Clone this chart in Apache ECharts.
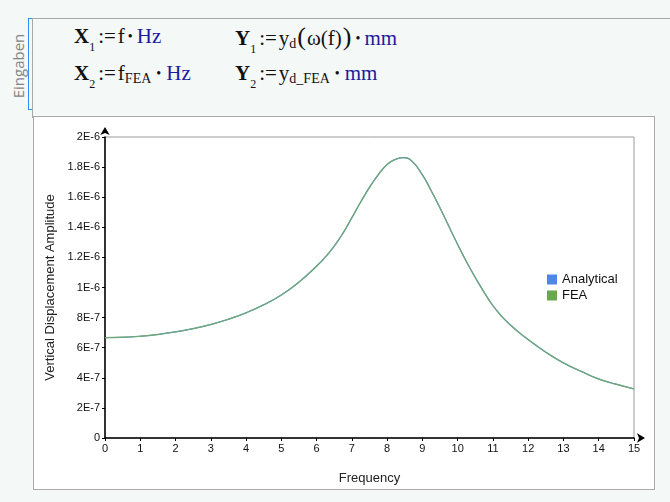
<!DOCTYPE html>
<html>
<head>
<meta charset="utf-8">
<script src="https://cdn.jsdelivr.net/npm/echarts@6/dist/echarts.min.js"></script>
<style>
  html, body { margin: 0; padding: 0; width: 670px; height: 502px; overflow: hidden; background: #f4f8f6; }
  #frameTop { position: absolute; left: 32px; top: 18px; width: 640px; height: 0; border-top: 1px solid #a8a8a8; }
  #frameLeft { position: absolute; left: 32px; top: 18px; width: 0; height: 100px; border-left: 1px solid #a8a8a8; }
  #bracket { position: absolute; left: 28px; top: 18px; width: 4px; height: 92px; border: 1px solid #2f8cff; border-right: none; box-sizing: border-box; }
  #ein { position: absolute; left: 18px; top: 66px; transform: translate(-50%, -50%) rotate(-90deg); font-family: "Open Sans", "Noto Sans", sans-serif; font-size: 15px; color: #858585; white-space: nowrap; }
  #box { position: absolute; left: 33px; top: 116px; width: 622px; height: 374px; background: #fff; border: 1px solid #aaaaaa; box-sizing: border-box; }
  #chart { position: absolute; left: 0; top: 0; width: 670px; height: 502px; }
  .m { position: absolute; font-family: "Liberation Serif", "DejaVu Serif", serif; font-size: 21px; line-height: 21px; color: #111; white-space: nowrap; }
  .m b { font-weight: bold; }
  .u { color: #1a1aa0; }
  .sub { font-size: 12px; position: relative; top: 8px; }
  .sub2 { font-size: 14px; position: relative; top: 3px; }
  .asg { margin: 0 2px 0 3px; }
  .dot { font-size: 14px; position: relative; top: -2px; margin: 0 5px; }
  .dot.n { margin: 0 4px 0 3px; }
  .par { font-size: 26px; margin: 0 1px; }
</style>
</head>
<body>
<div id="frameTop"></div>
<div id="frameLeft"></div>
<div id="bracket"></div>
<div id="ein">Eingaben</div>
<div class="m" style="left:74px; top:26px;"><b>X</b><span class="sub">1</span><span class="asg">:=</span>f<span class="dot n">•</span><span class="u">Hz</span></div>
<div class="m" style="left:235px; top:26px;"><b>Y</b><span class="sub">1</span><span class="asg">:=</span>y<span class="sub2">d</span><span class="par">(</span>ω(f)<span class="par">)</span><span class="dot n">•</span><span class="u">mm</span></div>
<div class="m" style="left:74px; top:63px;"><b>X</b><span class="sub">2</span><span class="asg">:=</span>f<span class="sub2">FEA</span><span class="dot">•</span><span class="u">Hz</span></div>
<div class="m" style="left:235px; top:63px;"><b>Y</b><span class="sub">2</span><span class="asg">:=</span>y<span class="sub2">d_FEA</span><span class="dot">•</span><span class="u">mm</span></div>
<div id="box"></div>
<div id="chart"></div>
<script>
// Frequency values (Hz)
var freq = [0, 0.5, 1, 1.5, 2, 2.5, 3, 3.5, 4, 4.5, 5, 5.5, 6, 6.25, 6.5, 6.75, 7, 7.25, 7.5, 7.75, 8, 8.2, 8.45, 8.7, 9, 9.25, 9.5, 9.75, 10, 10.25, 10.5, 10.75, 11, 11.25, 11.5, 11.75, 12, 12.5, 13, 13.5, 14, 14.5, 15];
// Amplitude (units of 1E-6)
var analytical = [0.667, 0.669, 0.676, 0.688, 0.705, 0.727, 0.754, 0.789, 0.832, 0.885, 0.950, 1.036, 1.142, 1.203, 1.275, 1.362, 1.464, 1.568, 1.665, 1.750, 1.818, 1.848, 1.863, 1.840, 1.748, 1.643, 1.528, 1.407, 1.286, 1.171, 1.066, 0.968, 0.879, 0.808, 0.750, 0.699, 0.654, 0.570, 0.499, 0.443, 0.392, 0.357, 0.326];
var fea = [0.667, 0.669, 0.676, 0.688, 0.705, 0.727, 0.754, 0.789, 0.832, 0.885, 0.950, 1.036, 1.142, 1.203, 1.275, 1.362, 1.464, 1.568, 1.665, 1.750, 1.818, 1.848, 1.863, 1.840, 1.748, 1.643, 1.528, 1.407, 1.286, 1.171, 1.066, 0.968, 0.879, 0.808, 0.750, 0.699, 0.654, 0.570, 0.499, 0.443, 0.392, 0.357, 0.326];
var yTickValues = [0, 2e-7, 4e-7, 6e-7, 8e-7, 1e-6, 1.2e-6, 1.4e-6, 1.6e-6, 1.8e-6, 2e-6];
var yTickLabels = ['0', '2E-7', '4E-7', '6E-7', '8E-7', '1E-6', '1.2E-6', '1.4E-6', '1.6E-6', '1.8E-6', '2E-6'];
var seriesNames = ['Analytical', 'FEA'];

function pairs(xs, ys) {
  return xs.map(function (x, i) { return [x, ys[i] * 1e-6]; });
}
function yLabel(v) {
  for (var i = 0; i < yTickValues.length; i++) {
    if (Math.abs(v - yTickValues[i]) < 1e-9) return yTickLabels[i];
  }
  return '';
}

var chart = echarts.init(document.getElementById('chart'), null, { renderer: 'canvas' });
var font = '"Liberation Sans", Arial, sans-serif';
chart.setOption({
  backgroundColor: 'transparent',
  animation: false,
  grid: { left: 105, top: 137, width: 529, height: 301, show: true, borderColor: '#9a9a9a', borderWidth: 1, backgroundColor: 'transparent' },
  legend: {
    data: seriesNames, orient: 'vertical', left: 547, top: 273, padding: 0, itemWidth: 10, itemHeight: 10, itemGap: 3,
    icon: 'rect', textStyle: { fontFamily: font, fontSize: 13, color: '#111' }
  },
  xAxis: {
    type: 'value', min: 0, max: 15, interval: 1,
    name: 'Frequency', nameLocation: 'middle', nameGap: 34,
    nameTextStyle: { fontFamily: font, fontSize: 13, color: '#222' },
    axisLine: { show: true, onZero: false, symbol: ['none', 'arrow'], symbolSize: [7, 8], symbolOffset: [0, 11], lineStyle: { color: '#000', width: 1.5 } },
    axisTick: { show: true, length: 3, lineStyle: { color: '#000' } },
    axisLabel: { fontFamily: font, fontSize: 11, color: '#111', margin: 5 },
    splitLine: { show: false }
  },
  yAxis: {
    type: 'value', min: 0, max: 2e-6, interval: 2e-7,
    name: 'Vertical Displacement Amplitude', nameLocation: 'middle', nameGap: 48,
    nameTextStyle: { fontFamily: font, fontSize: 13, color: '#222' },
    axisLine: { show: true, onZero: false, symbol: ['none', 'arrow'], symbolSize: [7, 8], symbolOffset: [0, 10], lineStyle: { color: '#000', width: 1.5 } },
    axisTick: { show: true, length: 3, lineStyle: { color: '#000' } },
    axisLabel: { fontFamily: font, fontSize: 11, color: '#111', margin: 5, formatter: yLabel },
    splitLine: { show: false }
  },
  series: [
    { name: seriesNames[0], type: 'line', data: pairs(freq, analytical), smooth: 0.5, showSymbol: false, color: '#4d86e6', lineStyle: { width: 1.1, color: '#4d86e6' } },
    { name: seriesNames[1], type: 'line', data: pairs(freq, fea), smooth: 0.5, showSymbol: false, color: '#69a84d', lineStyle: { width: 1.4, color: '#70a879' } }
  ]
});
</script>
</body>
</html>
